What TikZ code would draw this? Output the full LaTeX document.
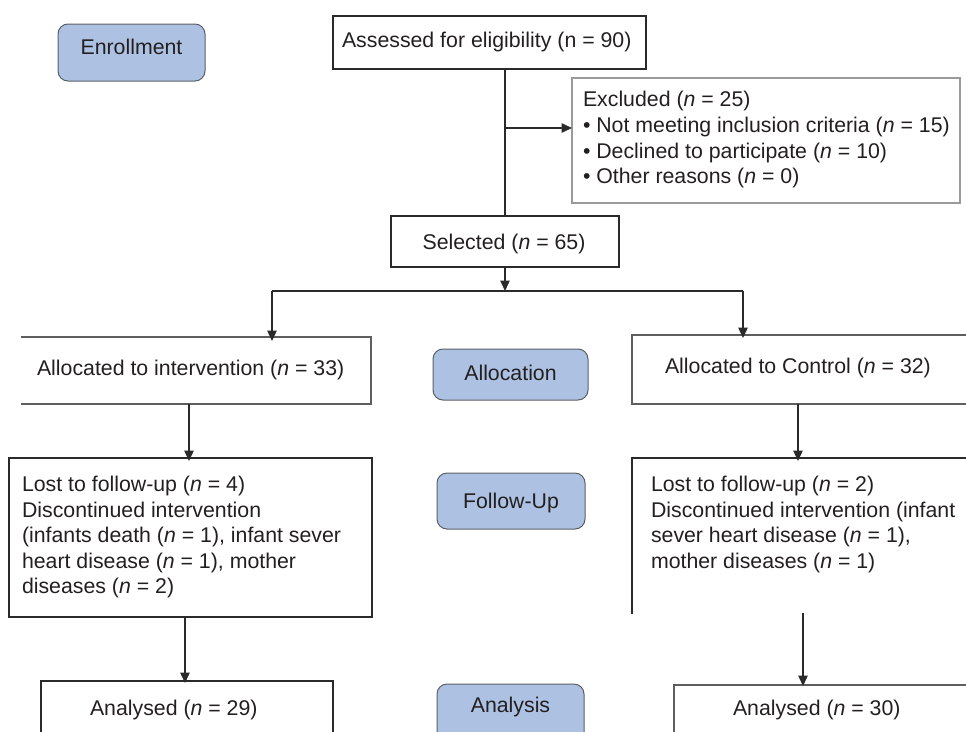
\documentclass[tikz,border=0pt]{standalone}
\usepackage{fontspec}
\setmainfont{Liberation Sans}
\usetikzlibrary{arrows.meta}
\definecolor{lblfill}{HTML}{ADC2E3}
\definecolor{lblborder}{HTML}{5A5F66}
\definecolor{txtc}{HTML}{231F20}
\definecolor{dark}{HTML}{2A2A2A}
\definecolor{mid}{HTML}{5E5E5E}
\definecolor{light}{HTML}{9A9A9A}
\begin{document}
\begin{tikzpicture}[x=1pt,y=-1pt,
  every node/.style={inner sep=0pt, outer sep=0pt},
  lbl/.style={rectangle, rounded corners=10pt, draw=lblborder, fill=lblfill, line width=1pt},
  frame/.style={rectangle},
  txt/.style={text=txtc, font=\fontsize{21.3}{25.6}\selectfont, align=left},
  ln/.style={draw=dark, line width=1.3pt},
  arr/.style={ln, -{Triangle[length=10.5pt,width=9.5pt]}}
]
\useasboundingbox (0,0) rectangle (966,731);
\clip (0,0) rectangle (966,731);

% stage labels
\node[lbl, minimum width=147pt, minimum height=57pt] (enroll) at (131.5,52.5) {};
\node[txt, anchor=center] (enrollT) at (131.5,47) {Enrollment};
\node[lbl, minimum width=155pt, minimum height=51pt] (alloclbl) at (510.5,374.5) {};
\node[txt, anchor=center] (alloclblT) at (510.5,373) {Allocation};
\node[lbl, minimum width=148pt, minimum height=56pt] (follbl) at (511,501) {};
\node[txt, anchor=center] (follblT) at (511,503) {Follow-Up};
\node[lbl, minimum width=147pt, minimum height=60pt] (analbl) at (510.5,714) {};
\node[txt, anchor=center] (analblT) at (510.5,707) {Analysis};

% box frames
\node[frame, minimum width=313pt, minimum height=53pt] (assess) at (489.5,42.5) {};
\node[frame, minimum width=388pt, minimum height=125pt] (excl) at (766,140.5) {};
\node[frame, minimum width=228pt, minimum height=51pt] (sel) at (505,241.5) {};
\node[frame, minimum width=350pt, minimum height=67pt] (allocL) at (196,370.5) {};
\node[frame, minimum width=368pt, minimum height=69pt] (allocR) at (816,369.5) {};
\node[frame, minimum width=363pt, minimum height=159pt] (lostL) at (190.5,537.5) {};
\node[frame, minimum width=368pt, minimum height=156pt] (lostR) at (816,536) {};
\node[frame, minimum width=292pt, minimum height=79pt] (anaL) at (187,720.5) {};
\node[frame, minimum width=326pt, minimum height=75pt] (anaR) at (837,722.5) {};

\draw[draw=dark, line width=1.3pt] (assess.north west) rectangle (assess.south east);
\draw[draw=light, line width=1.1pt] (excl.north west) rectangle (excl.south east);
\draw[draw=dark, line width=1.3pt] (sel.north west) rectangle (sel.south east);
\draw[draw=mid, line width=1.1pt] (allocL.north west) -- (allocL.north east) -- (allocL.south east) -- (allocL.south west);
\draw[draw=mid, line width=1.1pt] (allocR.north east) -- (allocR.north west) -- (allocR.south west) -- (allocR.south east);
\draw[draw=dark, line width=1.2pt] (lostL.north west) rectangle (lostL.south east);
\draw[draw=dark, line width=1.2pt] (lostR.north east) -- (lostR.north west) -- (lostR.south west);
\draw[draw=dark, line width=1.2pt] (anaL.south west) -- (anaL.north west) -- (anaL.north east) -- (anaL.south east);
\draw[draw=mid, line width=1.1pt] (anaR.south west) -- (anaR.north west) -- (anaR.north east);

% texts
\node[txt, anchor=base west] (assessT) at (342,47) {Assessed for eligibility (n = 90)};
\node[txt, anchor=north west] (exclT) at (583,91.5) {Excluded (\textit{n} = 25)\\
\textbullet\ Not meeting inclusion criteria (\textit{n} = 15)\\
\textbullet\ Declined to participate (\textit{n} = 10)\\
\textbullet\ Other reasons (\textit{n} = 0)};
\node[txt, anchor=base] (selT) at (504,249) {Selected (\textit{n} = 65)};
\node[txt, anchor=base west] (allocLT) at (37,375) {Allocated to intervention (\textit{n} = 33)};
\node[txt, anchor=base west] (allocRT) at (665,373) {Allocated to Control (\textit{n} = 32)};
\node[txt, anchor=north west] (lostLT) at (22,476) {Lost to follow-up (\textit{n} = 4)\\
Discontinued intervention\\
(infants death (\textit{n} = 1), infant sever\\
heart disease (\textit{n} = 1), mother\\
diseases (\textit{n} = 2)};
\node[txt, anchor=north west] (lostRT) at (651,476) {Lost to follow-up (\textit{n} = 2)\\
Discontinued intervention (infant\\
sever heart disease (\textit{n} = 1),\\
mother diseases (\textit{n} = 1)};
\node[txt, anchor=base west] (anaLT) at (90,715) {Analysed (\textit{n} = 29)};
\node[txt, anchor=base west] (anaRT) at (733,715) {Analysed (\textit{n} = 30)};

% connectors
\coordinate (br) at (505,128);
\coordinate (split) at (505,291);
\coordinate (jl) at (272,291);
\coordinate (jr) at (743,291);
\draw[ln] (assess.south -| sel.north) -- (sel.north);
\draw[arr] (br) -- (br -| excl.west);
\draw[arr] (sel.south) -- (split);
\draw[ln] (jl) -- (jr);
\draw[arr] (jl) -- ([yshift=-4pt]jl |- allocL.north);
\draw[arr] (jr) -- ([yshift=-3pt]jr |- allocR.north);
\draw[arr] ([xshift=-7pt]allocL.south) -- ([xshift=-1.5pt,yshift=-3pt]lostL.north);
\draw[arr] ([xshift=-5.5pt]lostL.south) -- ([xshift=-2pt,yshift=-2pt]anaL.north);
\draw[arr] ([xshift=-18pt]allocR.south) -- ([xshift=-18pt,yshift=-3pt]lostR.north);
\draw[arr] ([xshift=-13pt,yshift=1pt]lostR.south) -- ([xshift=-34pt,yshift=-1pt]anaR.north);
\end{tikzpicture}
\end{document}
